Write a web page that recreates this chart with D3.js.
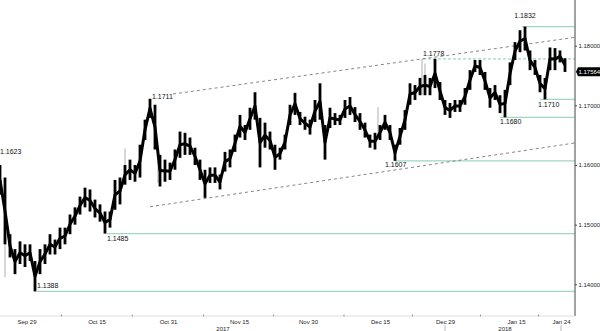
<!DOCTYPE html>
<html>
<head>
<meta charset="utf-8">
<script src="https://cdn.jsdelivr.net/npm/d3@7/dist/d3.min.js"></script>
<style>
    body { margin: 0; background: #fff; }
    text { font-family: "Liberation Sans", Arial, sans-serif; }
</style>
</head>
<body>
<div id="chart"></div>
<script>
// Price bars (one every ~0.8 trading day)
const highs = [
    1.1600, 1.1579, 1.1484, 1.1459, 1.1472, 1.1467, 1.1467, 1.1439, 1.1459, 1.1467,
    1.1484, 1.1475, 1.1495, 1.1495, 1.1517, 1.1529, 1.1547, 1.1562, 1.1559, 1.1542,
    1.1534, 1.1522, 1.1522, 1.1575, 1.1579, 1.1600, 1.1609, 1.1600, 1.1634, 1.1676,
    1.1711, 1.1701, 1.1617, 1.1609, 1.1604, 1.1626, 1.1656, 1.1654, 1.1646, 1.1629,
    1.1609, 1.1592, 1.1596, 1.1596, 1.1584, 1.1622, 1.1626, 1.1651, 1.1684, 1.1667,
    1.1696, 1.1722, 1.1679, 1.1671, 1.1656, 1.1634, 1.1629, 1.1651, 1.1701, 1.1721,
    1.1689, 1.1681, 1.1676, 1.1709, 1.1737, 1.1667, 1.1696, 1.1687, 1.1684, 1.1709,
    1.1714, 1.1697, 1.1687, 1.1671, 1.1651, 1.1654, 1.1667, 1.1684, 1.1667, 1.1634,
    1.1662, 1.1692, 1.1737, 1.1734, 1.1746, 1.1751, 1.1746, 1.1778, 1.1739, 1.1709,
    1.1704, 1.1709, 1.1709, 1.1729, 1.1759, 1.1776, 1.1776, 1.1756, 1.1729, 1.1734,
    1.1717, 1.1726, 1.1772, 1.1806, 1.1826, 1.1832, 1.1792, 1.1776, 1.1751, 1.1746,
    1.1797, 1.1796, 1.1792, 1.1779
];
const lows = [
    1.1550, 1.1467, 1.1445, 1.1417, 1.1434, 1.1429, 1.1439, 1.1388, 1.1417, 1.1434,
    1.1450, 1.1450, 1.1459, 1.1467, 1.1484, 1.1500, 1.1517, 1.1529, 1.1522, 1.1512,
    1.1505, 1.1485, 1.1495, 1.1525, 1.1534, 1.1567, 1.1575, 1.1572, 1.1579, 1.1642,
    1.1679, 1.1626, 1.1564, 1.1572, 1.1575, 1.1592, 1.1612, 1.1617, 1.1617, 1.1600,
    1.1575, 1.1545, 1.1570, 1.1570, 1.1559, 1.1589, 1.1596, 1.1622, 1.1646, 1.1642,
    1.1659, 1.1676, 1.1596, 1.1629, 1.1626, 1.1592, 1.1609, 1.1626, 1.1667, 1.1684,
    1.1667, 1.1659, 1.1651, 1.1672, 1.1676, 1.1609, 1.1662, 1.1667, 1.1667, 1.1679,
    1.1684, 1.1672, 1.1659, 1.1646, 1.1629, 1.1626, 1.1642, 1.1659, 1.1642, 1.1607,
    1.1634, 1.1659, 1.1701, 1.1709, 1.1717, 1.1717, 1.1717, 1.1729, 1.1709, 1.1684,
    1.1679, 1.1689, 1.1689, 1.1701, 1.1726, 1.1756, 1.1751, 1.1726, 1.1696, 1.1709,
    1.1687, 1.1680, 1.1734, 1.1776, 1.1789, 1.1792, 1.1759, 1.1751, 1.1722, 1.1710,
    1.1759, 1.1759, 1.1772, 1.1756
];
// thin grey wicks: [bar, from, to]
const wicks = [
    [1, 1.1467, 1.1412], [25, 1.1600, 1.1628], [31.6, 1.1626, 1.1570],
    [75.6, 1.1654, 1.1697], [84.4, 1.1717, 1.1778], [85, 1.1717, 1.1770]
];
const lastPrice = 1.17564;

// x axis
const tickBars = [5.3, 19.3, 33.6, 47.8, 61.6, 76, 89, 103.2, 112.2];
const tickLabels = ["Sep 29", "Oct 15", "Oct 31", "Nov 15", "Nov 30", "Dec 15", "Dec 29", "Jan 15", "Jan 24"];
const yearBars = [44.6, 101];
const yearLabels = ["2017", "2018"];

// y axis
const yTicks = [1.14, 1.15, 1.16, 1.17, 1.18];

// support / resistance levels: value and the bar where the line starts
const levelValues = [1.1832, 1.1778, 1.1710, 1.1680, 1.1607, 1.1485, 1.1388];
const levelStart = [104.4, 84.6, 108, 100, 79, 21.4, 7.4];
// price labels with no line
const noteValues = [1.1711, 1.1623];
const noteBars = [30.4, 0];

// channel: [bar1, price1, bar2, price2]
const channel = [
    [34.6, 1.1719, 115, 1.1814],
    [30, 1.1530, 115, 1.1637]
];

function init() {
    const w = 600;
    const h = 331;
    const axisX = 575;
    const bottom = 316;

    const svg = d3.select("#chart").append("svg").attr("width", w).attr("height", h);
    svg.append("rect").attr("width", w).attr("height", h).attr("fill", "#fff");

    const xScale = d3.scaleLinear().domain([0, 113]).range([0, 565]);
    const yScale = d3.scaleLinear().domain([1.14, 1.18]).range([284.3, 45.7]);

    const bars = highs.map((hi, i) => ({ i: i, hi: hi, lo: lows[i] }));
    const fmt4 = d3.format(".4f");
    const teal = "#9fd6c6";

    // Level lines
    const labelShift = [[0.6, -9], [0, -2.5], [-0.4, 7.5], [0, 7], [-2, 6], [0, 7], [0, -3]];
    levelValues.forEach((v, k) => {
        svg.append("line")
            .attr("x1", xScale(levelStart[k]))
            .attr("x2", axisX)
            .attr("y1", yScale(v))
            .attr("y2", yScale(v))
            .attr("stroke", teal)
            .attr("stroke-width", 1.2)
            .attr("stroke-dasharray", k == 1 ? "3,2" : null);
        svg.append("text")
            .attr("x", xScale(levelStart[k] + labelShift[k][0]))
            .attr("y", yScale(v) + labelShift[k][1])
            .attr("text-anchor", k == 0 ? "middle" : "start")
            .attr("font-size", "7px")
            .attr("fill", "#111")
            .text(fmt4(v));
    });

    noteValues.forEach((v, k) => {
        svg.append("text")
            .attr("x", xScale(noteBars[k]))
            .attr("y", yScale(v) + (k == 0 ? 0 : 3))
            .attr("font-size", "7px")
            .attr("fill", "#111")
            .text(fmt4(v));
    });

    // Channel lines
    channel.forEach((c) => {
        svg.append("line")
            .attr("x1", xScale(c[0])).attr("y1", yScale(c[1]))
            .attr("x2", xScale(c[2])).attr("y2", yScale(c[3]))
            .attr("stroke", "#777")
            .attr("stroke-width", 0.9)
            .attr("stroke-dasharray", "3,3");
    });

    // Grey wicks
    svg.selectAll(".wick").data(wicks).enter().append("line")
        .attr("class", "wick")
        .attr("x1", (d) => xScale(d[0])).attr("x2", (d) => xScale(d[0]))
        .attr("y1", (d) => yScale(d[1])).attr("y2", (d) => yScale(d[2]))
        .attr("stroke", "#999")
        .attr("stroke-width", 0.8);

    // Price bars plus a line through their middles
    const mid = d3.line()
        .x((d) => xScale(d.i))
        .y((d) => yScale((d.hi + d.lo) / 2));

    svg.append("path")
        .datum(bars)
        .attr("d", mid)
        .attr("fill", "none")
        .attr("stroke", "#000")
        .attr("stroke-width", 3)
        .attr("stroke-linejoin", "round");

    svg.selectAll(".bar").data(bars).enter().append("line")
        .attr("class", "bar")
        .attr("x1", (d) => xScale(d.i)).attr("x2", (d) => xScale(d.i))
        .attr("y1", (d) => yScale(d.hi)).attr("y2", (d) => yScale(d.lo))
        .attr("stroke", "#000")
        .attr("stroke-width", 2.8);

    // Right axis
    svg.append("line")
        .attr("x1", axisX).attr("x2", axisX)
        .attr("y1", 0).attr("y2", bottom)
        .attr("stroke", "#444");

    const yAxis = d3.axisRight(yScale)
        .tickValues(yTicks)
        .tickFormat(d3.format(".5f"))
        .tickSize(2)
        .tickPadding(1.5);

    const gy = svg.append("g")
        .attr("transform", "translate(" + axisX + ",0)")
        .call(yAxis);
    gy.select(".domain").remove();
    gy.selectAll("text").attr("font-size", "6px").attr("fill", "#222").attr("font-family", "Liberation Sans, Arial, sans-serif");
    gy.selectAll("line").attr("stroke", "#444");

    // Last price tag
    const yl = yScale(lastPrice);
    svg.append("path")
        .attr("d", "M" + (axisX + 1) + "," + yl + "L" + (axisX + 3) + "," + (yl - 4.5) + "H600V" + (yl + 4.5) + "H" + (axisX + 3) + "Z")
        .attr("fill", "#000");
    svg.append("text")
        .attr("x", axisX + 3.5)
        .attr("y", yl + 2.2)
        .attr("font-size", "6px")
        .attr("fill", "#fff")
        .text(d3.format(".5f")(lastPrice));

    // Bottom axis
    const xAxis = d3.axisBottom(xScale)
        .tickValues(tickBars)
        .tickFormat((d, i) => tickLabels[i])
        .tickSize(0)
        .tickPadding(4);

    const gx = svg.append("g")
        .attr("transform", "translate(0," + bottom + ")")
        .call(xAxis);
    gx.select(".domain").attr("d", "M0,0H" + axisX).attr("stroke", "#ddd");
    gx.selectAll("text").attr("font-size", "6px").attr("fill", "#222").attr("font-family", "Liberation Sans, Arial, sans-serif");

    // minor ticks between the labels
    const mids = d3.pairs(tickBars).map((p) => (p[0] + p[1]) / 2);
    svg.selectAll(".minor").data(mids).enter().append("line")
        .attr("class", "minor")
        .attr("x1", (d) => xScale(d)).attr("x2", (d) => xScale(d))
        .attr("y1", bottom - 1.5).attr("y2", bottom + 0.5)
        .attr("stroke", "#999");

    // year separators
    [tickBars[6], tickBars[8]].forEach((b) => {
        svg.append("line")
            .attr("x1", xScale(b)).attr("x2", xScale(b))
            .attr("y1", bottom + 9).attr("y2", h)
            .attr("stroke", "#bbb");
    });

    yearLabels.forEach((t, k) => {
        svg.append("text")
            .attr("x", xScale(yearBars[k]))
            .attr("y", 330.5)
            .attr("text-anchor", "middle")
            .attr("font-size", "6px")
            .attr("fill", "#222")
            .text(t);
    });
}

window.onload = init;
</script>
</body>
</html>
